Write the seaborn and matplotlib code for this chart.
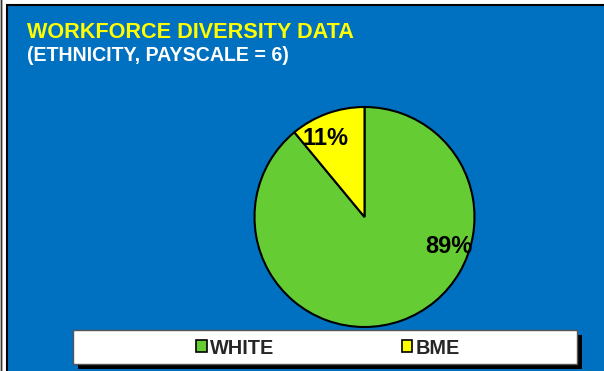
import numpy as np
import seaborn as sns
import matplotlib.pyplot as plt
from matplotlib.patches import Rectangle, Patch

sns.set_theme(style="white")
plt.rcParams['font.family'] = ['Liberation Sans', 'DejaVu Sans']

# data
categories = ["WHITE", "BME"]
shares = [89, 11]
colors = ["#66CC33", "#FFFF00"]
title = "WORKFORCE DIVERSITY DATA"
subtitle = "(ETHNICITY, PAYSCALE = 6)"

W, H = 604, 371
bg_blue = "#0070C0"

fig = plt.figure(figsize=(W / 100, H / 100), dpi=100)
fig.patch.set_facecolor("white")

# blue panel with black frame
fig.add_artist(Rectangle((7 / W, -0.01), 1.0, 1 - 5 / H + 0.01, transform=fig.transFigure,
                         facecolor=bg_blue, edgecolor="black", linewidth=1.5, zorder=0))
fig.add_artist(Rectangle((0.5 / W, -0.01), 0, 1.02, transform=fig.transFigure,
                         facecolor="none", edgecolor="#333333", linewidth=1, zorder=0))

fig.text(27 / W, 1 - 38 / H, title, color="#FFFF00", fontsize=15.6, fontweight="bold",
         va="baseline", ha="left")
fig.text(27 / W, 1 - 61 / H, subtitle, color="white", fontsize=14.1, fontweight="bold",
         va="baseline", ha="left")

# pie axes: centre (364.5, 217) px, radius 110 px
r_px = 110
cx, cy = 364.5, 217
ax = fig.add_axes([(cx - r_px) / W, (H - cy - r_px) / H, 2 * r_px / W, 2 * r_px / H])
ax.set_facecolor("none")
wedges, _ = ax.pie(shares, colors=colors, startangle=90, counterclock=False,
                   wedgeprops=dict(edgecolor="black", linewidth=1.5))
ax.set_xlim(-1, 1)
ax.set_ylim(-1, 1)
ax.set_aspect("equal")
ax.axis("off")

# percentage labels (Excel best-fit placement)
label_angles = [-19.35, 116.4]
label_radius = [0.81, 0.80]
for val, ang, rr in zip(shares, label_angles, label_radius):
    a = np.deg2rad(ang)
    ax.text(rr * np.cos(a), rr * np.sin(a), f"{val}%", ha="center", va="center",
            fontsize=17, fontweight="bold", color="black")

# legend box with black shadow
bx0, by0, bw, bh = 73, 330, 504, 34
fig.add_artist(Rectangle(((bx0 + 5) / W, (H - by0 - bh - 5) / H), bw / W, bh / H,
                         transform=fig.transFigure, facecolor="black", edgecolor="none", zorder=1))
fig.add_artist(Rectangle((bx0 / W, (H - by0 - bh) / H), bw / W, bh / H,
                         transform=fig.transFigure, facecolor="white", edgecolor="#555555",
                         linewidth=1, zorder=2))
handles = [Patch(facecolor=c, edgecolor="black", linewidth=1.2) for c in colors]
leg = fig.legend(handles, categories, loc="center", ncol=2,
                 bbox_to_anchor=(328 / W, 1 - 348 / H), frameon=False,
                 prop=dict(weight="bold", size=14.3), handlelength=0.55, handleheight=0.55,
                 handletextpad=0.18, columnspacing=6.4, borderpad=0)
leg.set_zorder(3)

fig.savefig("out.png", dpi=100, facecolor=fig.get_facecolor())
